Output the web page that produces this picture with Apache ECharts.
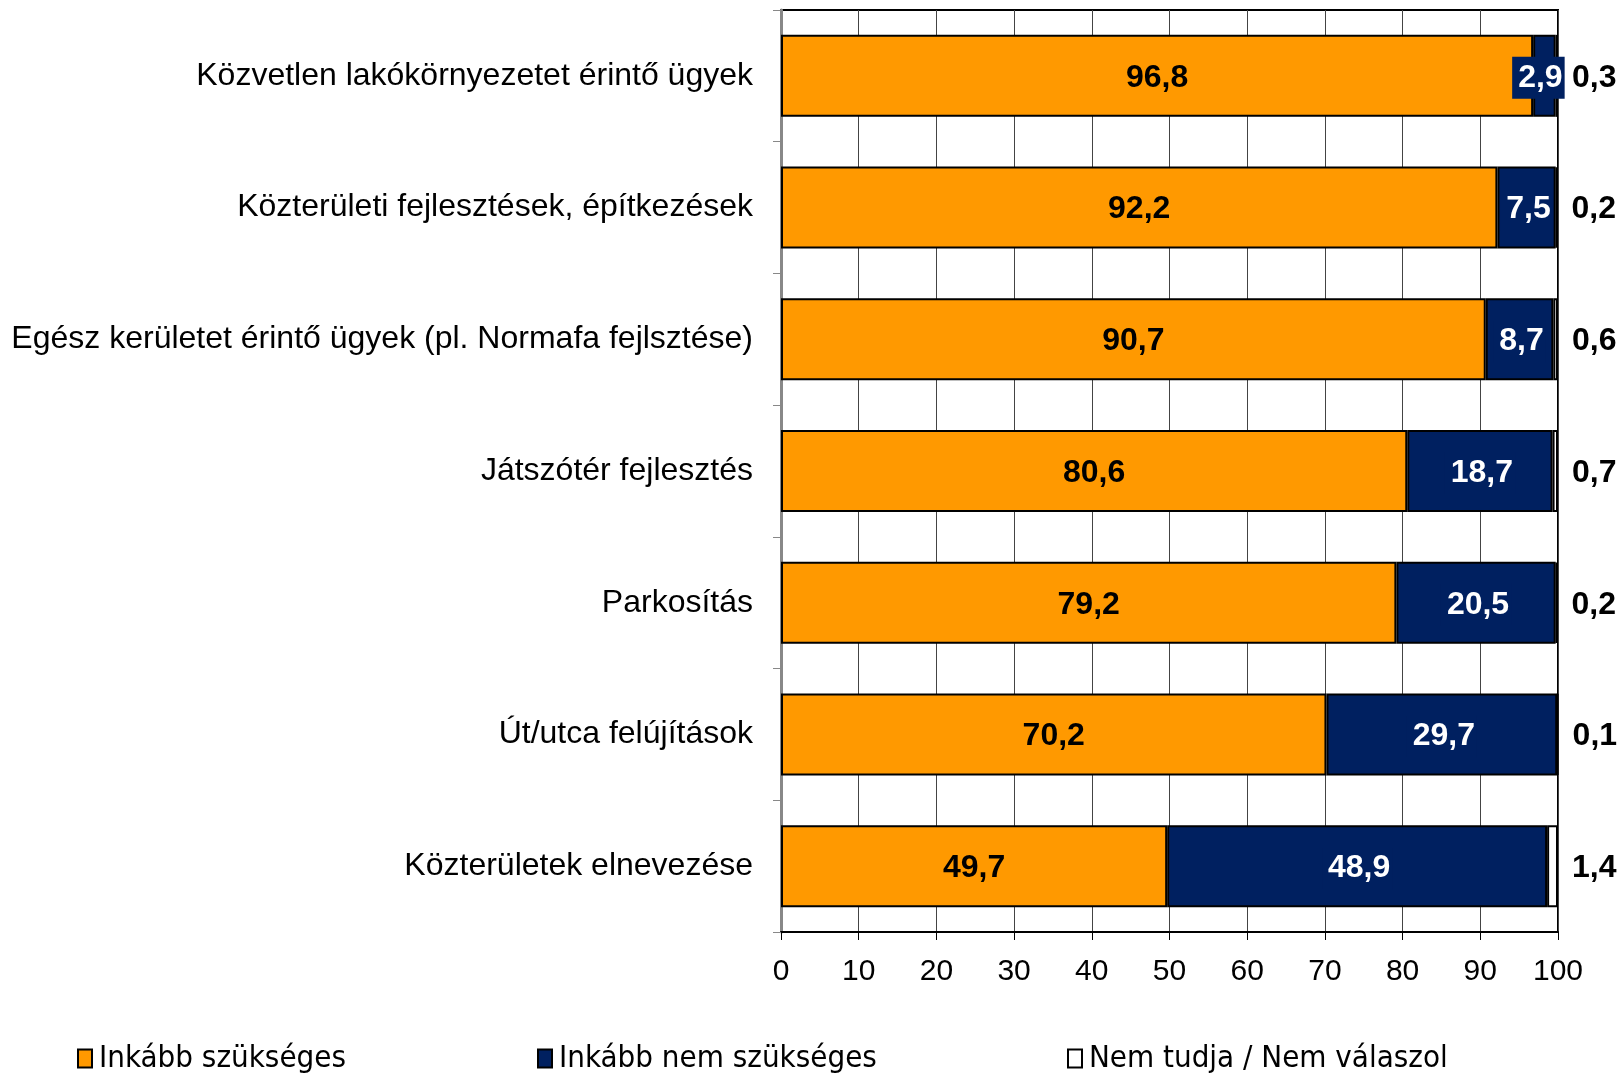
<!DOCTYPE html>
<html>
<head>
<meta charset="utf-8">
<script src="https://cdn.jsdelivr.net/npm/echarts@6/dist/echarts.min.js"></script>
<style>
  html, body { margin: 0; padding: 0; background: #fff; }
  #main { width: 1620px; height: 1073px; }
</style>
</head>
<body>
<div id="main"></div>
<script>
const categories = [
  'Közvetlen lakókörnyezetet érintő ügyek',
  'Közterületi fejlesztések, építkezések',
  'Egész kerületet érintő ügyek (pl. Normafa fejlsztése)',
  'Játszótér fejlesztés',
  'Parkosítás',
  'Út/utca felújítások',
  'Közterületek elnevezése'
];
const needed = [96.8, 92.2, 90.7, 80.6, 79.2, 70.2, 49.7];
const notNeeded = [2.9, 7.5, 8.7, 18.7, 20.5, 29.7, 48.9];
const noAnswer = [0.3, 0.2, 0.6, 0.7, 0.2, 0.1, 1.4];
const seriesNames = ['Inkább szükséges', 'Inkább nem szükséges', 'Nem tudja / Nem válaszol'];

const font = 'Liberation Sans, Arial, sans-serif';
const fmt = p => String(p.value).replace('.', ',');

let myChart = echarts.init(document.getElementById('main'));
const legendBase = {
  top: 1038,
  itemWidth: 14,
  itemHeight: 18,
  itemGap: 0,
  icon: 'rect',
  textStyle: { fontFamily: 'Liberation Sans Narrow, DejaVu Sans Condensed, Arial, sans-serif', fontSize: 31, color: '#000', padding: [0, 0, 0, 2] }
};
// small navy segments get their label nudged left, like the original
const notNeededData = notNeeded.map(v => v < 5 ? { value: v, label: { offset: [-6, 2] } } : v);

myChart.setOption({
  backgroundColor: '#fff',
  animation: false,
  grid: { left: 781, right: 62, top: 10, bottom: 141, show: true, borderColor: '#000', borderWidth: 2 },
  legend: [
    Object.assign({ left: 72, data: [seriesNames[0]] }, legendBase),
    Object.assign({ left: 532, data: [seriesNames[1]] }, legendBase),
    Object.assign({ left: 1062, data: [seriesNames[2]] }, legendBase)
  ],
  xAxis: {
    type: 'value', min: 0, max: 100, interval: 10,
    axisLine: { show: true, lineStyle: { color: '#000', width: 2 } },
    axisTick: { show: true, length: 8, lineStyle: { color: '#000', width: 1 } },
    axisLabel: { fontFamily: font, fontSize: 30, color: '#000', margin: 25 },
    splitLine: { show: true, lineStyle: { color: '#444', width: 1 } }
  },
  yAxis: {
    type: 'category', data: categories, inverse: true,
    axisLine: { show: true, lineStyle: { color: '#888', width: 3 } },
    axisTick: { show: true, length: 8, lineStyle: { color: '#888', width: 1 } },
    axisLabel: { fontFamily: font, fontSize: 32, color: '#000', margin: 28 }
  },
  series: [
    {
      name: seriesNames[0], type: 'bar', stack: 'a', data: needed, barWidth: 82,
      itemStyle: { color: '#FF9900', borderColor: '#000', borderWidth: 2 },
      label: { show: true, position: 'inside', offset: [0, 2], formatter: fmt, fontFamily: font, fontSize: 32, fontWeight: 'bold', color: '#000' }
    },
    {
      name: seriesNames[1], type: 'bar', stack: 'a', data: notNeededData,
      itemStyle: { color: '#002060', borderColor: '#000', borderWidth: 2 },
      label: { show: true, position: 'inside', offset: [0, 2], formatter: fmt, fontFamily: font, fontSize: 32, fontWeight: 'bold', color: '#fff',
        backgroundColor: '#002060', padding: [5, 2, 5, 6] }
    },
    {
      name: seriesNames[2], type: 'bar', stack: 'a', data: noAnswer,
      itemStyle: { color: '#fff', borderColor: '#000', borderWidth: 2 },
      label: { show: true, position: 'right', distance: 12, offset: [0, 2], formatter: fmt, fontFamily: font, fontSize: 32, fontWeight: 'bold', color: '#000',
        backgroundColor: '#fff', padding: [8, 2, 8, 2] }
    }
  ]
});
</script>
</body>
</html>
